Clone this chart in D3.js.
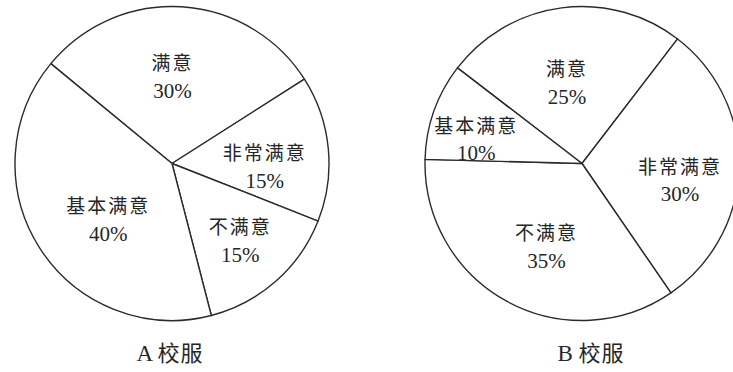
<!DOCTYPE html>
<html>
<head>
<meta charset="utf-8">
<script src="https://cdn.jsdelivr.net/npm/d3@7"></script>
<style>
  html, body { margin: 0; padding: 0; background: #fff; }
  svg { display: block; }
  .lbl { font-family: "Liberation Serif", "Noto Sans CJK SC", serif; fill: #262626; }
</style>
</head>
<body>
<div id="chart"></div>
<script>
// slice order, clockwise from the top-left spoke
const categories = ["满意", "非常满意", "不满意", "基本满意"];
const valuesA = [30, 15, 15, 40];
const valuesB = [25, 30, 35, 10];
const titleLetters = ["A", "B"];
const titleText = "校服";

const width = 733, height = 372;
const radius = 157;
const lineColor = "#2b2b2b";

const svg = d3.select("#chart")
  .append("svg")
  .attr("width", width)
  .attr("height", height);

// layout for each pie (not data)
const pies = [
  {values: valuesA, letter: titleLetters[0], cx: 172, cy: 163.5, start: -50.5, titleX: 170,
    nudge: [[-5, 4], [2, 12], [8, 9], [13, 7]]},
  {values: valuesB, letter: titleLetters[1], cx: 582, cy: 163.5, start: -52.5, titleX: 591,
    nudge: [[-3, 9], [7, 14], [8, 3], [-20, 6]]}
];

const arc = d3.arc().innerRadius(0).outerRadius(radius);
const labelArc = d3.arc().innerRadius(radius * 0.58).outerRadius(radius * 0.58);

pies.forEach(p => {
  const rad = p.start * Math.PI / 180;
  const pie = d3.pie()
    .sort(null)
    .value(d => d)
    .startAngle(rad)
    .endAngle(rad + 2 * Math.PI);

  const arcs = pie(p.values);

  const g = svg.append("g")
    .attr("transform", "translate(" + p.cx + "," + p.cy + ")");

  g.selectAll("path")
    .data(arcs)
    .enter()
    .append("path")
    .attr("d", arc)
    .attr("fill", "#fff")
    .attr("stroke", lineColor)
    .attr("stroke-width", 1.4)
    .attr("stroke-linejoin", "round");

  const labels = g.selectAll("g.label")
    .data(arcs)
    .enter()
    .append("g")
    .attr("class", "label")
    .attr("transform", (d, i) => {
      const c = labelArc.centroid(d);
      return "translate(" + (c[0] + p.nudge[i][0]) + "," + (c[1] + p.nudge[i][1]) + ")";
    });

  labels.append("text")
    .attr("class", "lbl")
    .attr("text-anchor", "middle")
    .attr("y", -13)
    .attr("dy", "0.35em")
    .style("font-family", "'Noto Sans CJK SC', sans-serif")
    .style("font-size", "19px")
    .style("letter-spacing", "2px")
    .text((d, i) => categories[i]);

  labels.append("text")
    .attr("class", "lbl")
    .attr("text-anchor", "middle")
    .attr("y", 14)
    .attr("dy", "0.35em")
    .style("font-size", "21px")
    .text(d => d.data + "%");

  const t = svg.append("text")
    .attr("class", "lbl")
    .attr("x", p.titleX)
    .attr("y", 353)
    .attr("text-anchor", "middle")
    .attr("dy", "0.35em")
    .style("font-size", "23px");
  t.append("tspan").text(p.letter + " ");
  t.append("tspan")
    .style("font-family", "'Noto Sans CJK SC', sans-serif")
    .style("font-size", "22px")
    .style("letter-spacing", "1px")
    .text(titleText);
});
</script>
</body>
</html>
